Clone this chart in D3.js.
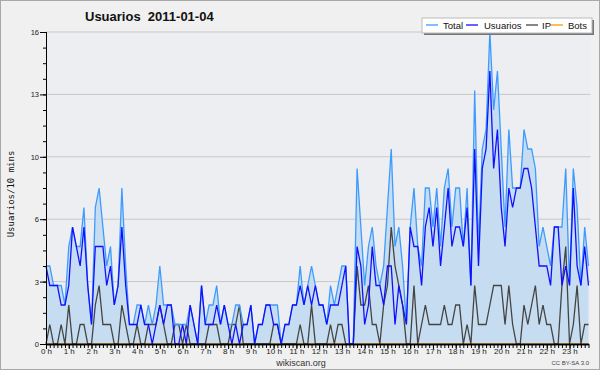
<!DOCTYPE html>
<html>
<head>
<meta charset="utf-8">
<script src="https://cdn.jsdelivr.net/npm/d3@7"></script>
<style>
  body { margin: 0; background: #fff; }
  svg { display: block; font-family: "Liberation Sans", Arial, sans-serif; }
</style>
</head>
<body>
<div id="graph"></div>
<script>
// one value per 10 minutes, 2011-01-04
var total = [4,4,3,3,3,2,5,6,5,5,7,3,1,7,8,6,4,5,2,3,8,4,1,1,2,2,1,2,1,2,4,2,2,2,1,1,
  1,1,2,1,0,3,1,2,2,3,1,2,1,1,2,2,1,1,2,0,1,1,2,2,2,2,0,1,1,2,2,4,2,3,4,3,
  2,2,1,3,2,3,4,4,0,0,9,6,3,5,6,4,3,4,7,10,5,6,4,1,6,8,5,4,8,8,6,8,5,8,9,6,
  8,8,5,8,3,13,5,10,11,16,12,14,10,6,11,8,8,8,11,10,10,9,5,6,5,4,6,6,6,9,3,9,7,3,6,4];
var usuarios = [4,3,3,3,2,2,3,6,5,4,6,3,1,5,5,5,3,4,2,3,6,3,1,1,1,2,1,1,0,1,2,1,2,2,0,0,
  1,0,2,1,0,3,1,1,1,2,1,2,1,0,1,0,1,1,2,0,1,1,2,2,1,1,0,1,1,2,2,3,2,3,2,3,
  2,2,1,2,2,2,3,4,0,0,5,4,1,2,5,3,3,2,4,4,1,3,2,1,6,5,5,3,6,7,5,7,4,6,8,5,
  6,6,5,7,3,10,4,9,10,14,9,11,7,5,8,7,8,8,9,9,8,6,4,4,4,3,6,6,3,4,3,8,4,3,5,3];
var ip = [0,1,0,0,1,0,2,0,0,1,1,0,0,2,3,1,1,1,0,0,2,1,0,0,1,0,0,1,1,1,2,1,0,0,1,1,
  0,1,0,0,0,0,0,1,1,1,0,0,0,1,1,2,0,0,0,0,0,0,0,0,1,1,0,0,0,0,0,1,0,0,2,0,
  0,0,0,1,0,1,1,0,0,0,4,2,2,3,1,1,0,2,3,6,4,3,2,0,0,3,0,1,2,1,1,1,1,2,1,1,
  2,2,0,1,0,3,1,1,1,2,3,3,3,1,3,1,0,0,2,1,2,3,1,2,1,1,0,0,3,5,0,1,3,0,1,1];
var bots = total.map(function() { return 0; });

var yTicks = [0, 3.2, 6.4, 9.6, 12.8, 16];
var hourLabels = d3.range(24).map(function(h) { return h + " h"; });
var seriesNames = ["Total", "Usuarios", "IP", "Bots"];
var seriesColors = ["#3d9bff", "#1010ff", "#444444", "#ff9900"];

var W = 600, H = 370;
var plot = {left: 46, right: 588.5, top: 32, bottom: 344};

var svg = d3.select("#graph")
  .append("svg")
    .attr("width", W)
    .attr("height", H);

svg.append("rect")
  .attr("x", 0.5).attr("y", 0.5)
  .attr("width", W - 1).attr("height", H - 1)
  .attr("fill", "#f0f0f0")
  .attr("stroke", "#a8a8a8");

svg.append("rect")
  .attr("x", plot.left).attr("y", plot.top)
  .attr("width", plot.right - plot.left + 2).attr("height", plot.bottom - plot.top)
  .attr("fill", "#edeef1");

var x = d3.scaleLinear().domain([0, total.length - 1]).range([plot.left, plot.right]);
var y = d3.scaleLinear().domain([0, 16]).range([plot.bottom, plot.top]);

// grid
svg.append("g")
  .selectAll("line")
  .data(yTicks.slice(1))
  .join("line")
    .attr("x1", plot.left).attr("x2", plot.right + 2)
    .attr("y1", d => y(d)).attr("y2", d => y(d))
    .attr("stroke", "#c8c8c8");

// filled total
svg.append("path")
  .datum(total)
  .attr("fill", "#c6dcf0")
  .attr("d", d3.area()
    .x((d, i) => x(i))
    .y0(y(0))
    .y1(d => y(d)));

var line = d3.line().x((d, i) => x(i)).y(d => y(d));
[[bots, 3], [ip, 2], [total, 0], [usuarios, 1]].forEach(function(p) {
  svg.append("path")
    .datum(p[0])
    .attr("fill", "none")
    .attr("stroke", seriesColors[p[1]])
    .attr("stroke-width", 1.3)
    .attr("d", line);
});

// y axis
var yAxis = svg.append("g").attr("transform", "translate(" + plot.left + ",0)");
yAxis.append("g").call(d3.axisLeft(y).tickValues(d3.range(0, 16.01, 0.8)).tickSize(3).tickFormat(""));
yAxis.append("g").call(d3.axisLeft(y).tickValues(yTicks).tickSize(6).tickPadding(1)
  .tickFormat(d => Math.round(d)));
yAxis.selectAll(".domain").attr("stroke", "#000");
yAxis.selectAll("text").attr("font-size", "7.5px").attr("font-family", "Liberation Sans").attr("fill", "#222");

// x axis
var xAxis = svg.append("g").attr("transform", "translate(0," + plot.bottom + ")");
xAxis.append("g").call(d3.axisBottom(x).tickValues(d3.range(0, total.length)).tickSize(4)
  .tickFormat("").tickSizeOuter(0));
xAxis.append("g").call(d3.axisBottom(x).tickValues(d3.range(0, total.length, 6)).tickSize(5)
  .tickPadding(0).tickSizeOuter(0)
  .tickFormat((d, i) => hourLabels[i]));
xAxis.selectAll(".domain").attr("stroke", "#000").attr("stroke-width", 1.6);
xAxis.selectAll("text").attr("font-size", "8px").attr("font-family", "Liberation Sans")
  .attr("fill", "#222").attr("dy", "0.6em");

// titles
svg.append("text")
  .attr("x", 85).attr("y", 21)
  .attr("font-size", "13px").attr("font-weight", "bold")
  .attr("fill", "#111")
  .attr("xml:space", "preserve")
  .text("Usuarios  2011-01-04");

svg.append("text")
  .attr("transform", "translate(14,194) rotate(-90)")
  .attr("text-anchor", "middle")
  .attr("font-family", "DejaVu Sans Mono")
  .attr("font-size", "9px")
  .attr("fill", "#111")
  .text("Usuarios/10 mins");

svg.append("text")
  .attr("x", 301).attr("y", 365.5)
  .attr("text-anchor", "middle")
  .attr("font-size", "9px")
  .attr("fill", "#333")
  .text("wikiscan.org");

svg.append("text")
  .attr("x", 589).attr("y", 364.5)
  .attr("text-anchor", "end")
  .attr("font-size", "6px")
  .attr("fill", "#444")
  .text("CC BY-SA 3.0");

// legend
var lg = svg.append("g");
lg.append("rect").attr("x", 424).attr("y", 20).attr("width", 170).attr("height", 15).attr("fill", "#777");
lg.append("rect").attr("x", 422).attr("y", 18).attr("width", 170).attr("height", 15)
  .attr("fill", "#fff").attr("stroke", "#bbb");
var lx = [426, 466, 526, 551];
var tx = [443, 484, 542, 568];
seriesNames.forEach(function(n, i) {
  lg.append("line")
    .attr("x1", lx[i]).attr("x2", lx[i] + 12)
    .attr("y1", 25).attr("y2", 25)
    .attr("stroke", seriesColors[i]).attr("stroke-width", 1.3);
  lg.append("text")
    .attr("x", tx[i]).attr("y", 28.5)
    .attr("font-size", "9.5px")
    .attr("fill", "#111")
    .text(n);
});
</script>
</body>
</html>
